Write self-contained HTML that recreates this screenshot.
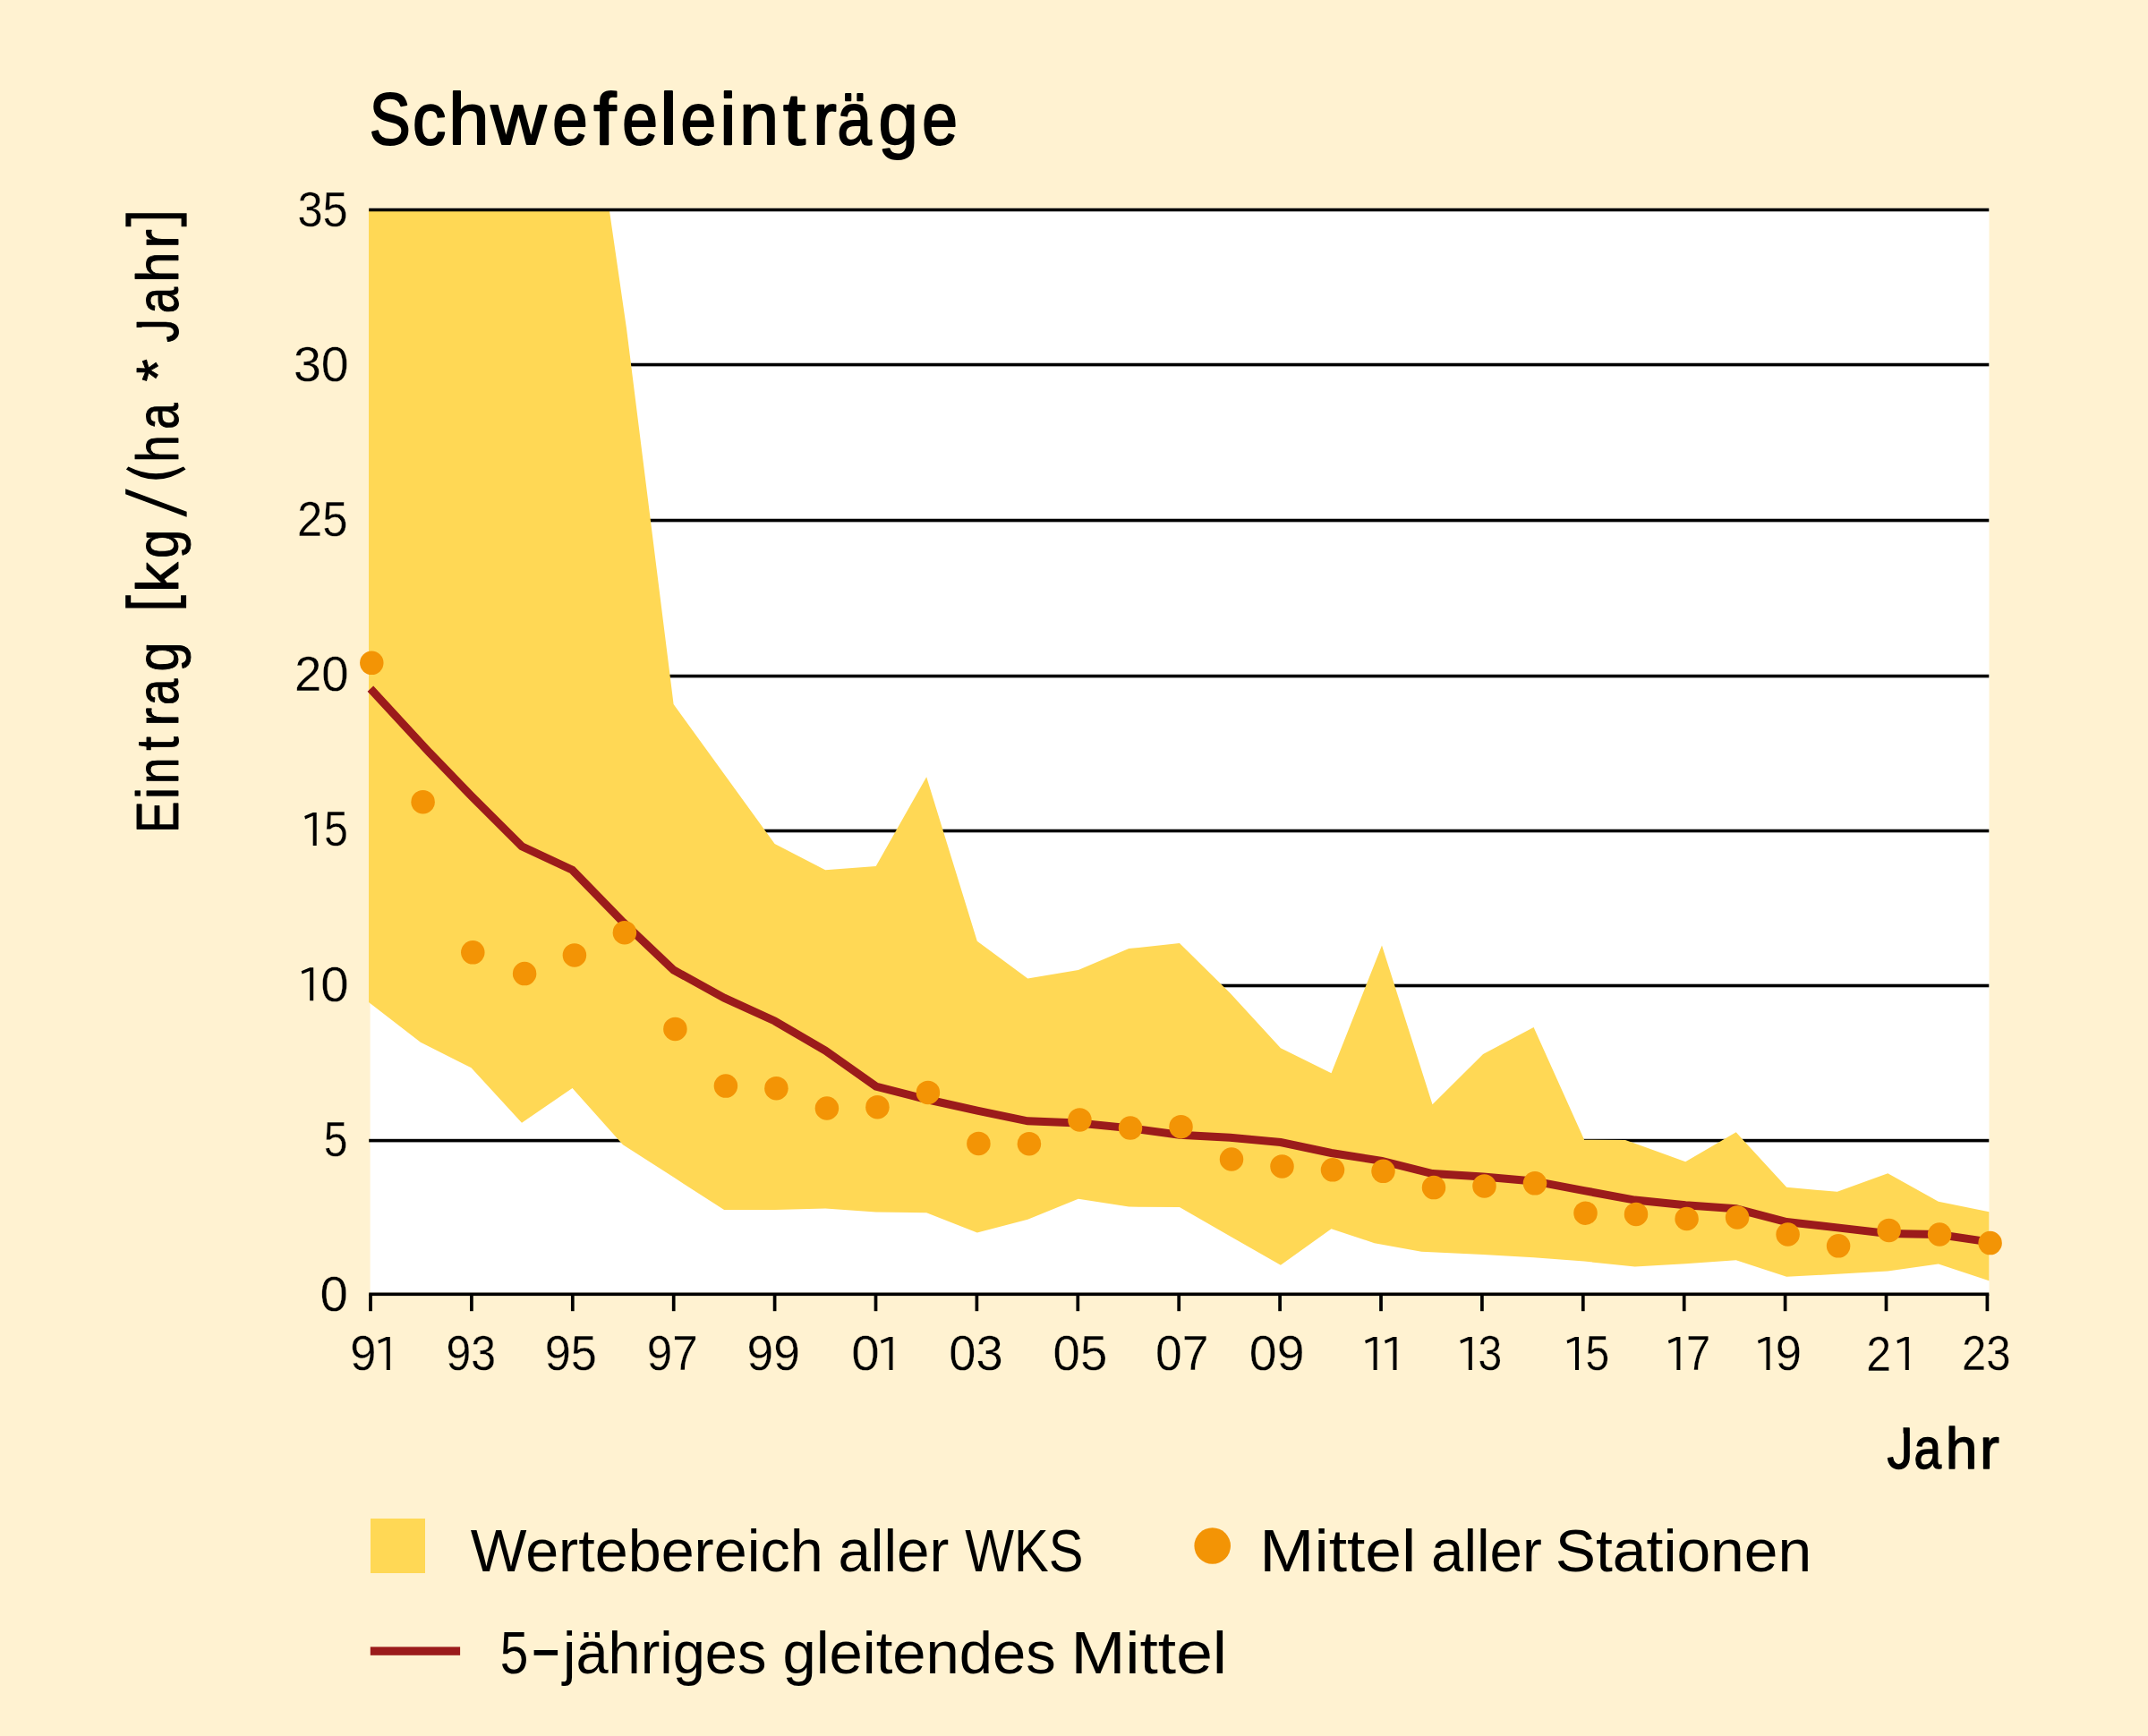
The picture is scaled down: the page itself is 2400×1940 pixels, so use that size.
<!DOCTYPE html>
<html><head><meta charset="utf-8"><title>Schwefeleinträge</title>
<style>
html,body{margin:0;padding:0;background:#FFF2D1;}
svg{display:block}
text{font-family:"Liberation Sans",sans-serif;fill:#000}
</style></head><body>
<svg width="2400" height="1940" viewBox="0 0 2400 1940">
<desc>Schwefeleinträge. Eintrag [kg / (ha * Jahr]. Jahr. Wertebereich aller WKS. Mittel aller Stationen. 5-jähriges gleitendes Mittel.</desc>
<rect width="2400" height="1940" fill="#FFF2D1"/>
<rect x="413.6" y="232.70" width="1808.9" height="1211.8" fill="#fff"/>
<rect x="412.2" y="405.75" width="1810.1" height="3.6" fill="#000"/>
<rect x="412.2" y="579.75" width="1810.1" height="3.6" fill="#000"/>
<rect x="412.2" y="753.75" width="1810.1" height="3.6" fill="#000"/>
<rect x="412.2" y="926.70" width="1810.1" height="3.6" fill="#000"/>
<rect x="412.2" y="1099.70" width="1810.1" height="3.6" fill="#000"/>
<rect x="412.2" y="1272.80" width="1810.1" height="3.6" fill="#000"/>
<polygon points="412.0,234.5 680.8,234.5 700.0,367.0 752.6,787.0 809.1,865.0 865.6,943.0 922.2,972.3 978.7,968.0 1035.2,868.2 1091.8,1051.7 1148.3,1093.6 1204.8,1084.1 1261.3,1060.1 1317.9,1053.9 1374.4,1109.8 1430.9,1171.2 1487.5,1199.2 1544.0,1056.5 1600.5,1234.2 1657.1,1177.9 1713.6,1148.1 1770.1,1273.7 1816.0,1273.9 1826.7,1277.8 1883.2,1298.2 1939.7,1265.3 1996.2,1326.8 2052.8,1331.8 2109.3,1311.3 2165.8,1342.7 2222.4,1354.2 2222.4,1431.2 2165.8,1412.6 2109.3,1420.6 2052.8,1423.8 1996.2,1426.8 1939.7,1408.2 1883.2,1412.3 1826.7,1415.4 1770.1,1409.6 1713.6,1405.3 1657.1,1402.1 1588.2,1398.7 1535.7,1389.2 1487.5,1373.2 1430.9,1413.7 1374.4,1381.6 1317.9,1348.9 1261.3,1348.6 1204.8,1339.7 1148.3,1362.8 1091.8,1377.4 1035.2,1355.2 978.7,1354.5 922.2,1350.6 865.6,1352.0 809.1,1352.0 752.6,1315.6 696.0,1279.3 639.5,1215.9 583.0,1254.7 526.5,1193.3 469.9,1164.8 412.0,1120.1" fill="#FFD855"/>
<rect x="412.2" y="232.70" width="1810.1" height="3.6" fill="#000"/>
<rect x="412.2" y="1444.50" width="1810.1" height="3.6" fill="#000"/>
<rect x="412.15" y="1446.3" width="3.7" height="18.9" fill="#000"/>
<rect x="525.05" y="1446.3" width="3.7" height="18.9" fill="#000"/>
<rect x="637.95" y="1446.3" width="3.7" height="18.9" fill="#000"/>
<rect x="750.85" y="1446.3" width="3.7" height="18.9" fill="#000"/>
<rect x="863.75" y="1446.3" width="3.7" height="18.9" fill="#000"/>
<rect x="976.65" y="1446.3" width="3.7" height="18.9" fill="#000"/>
<rect x="1089.55" y="1446.3" width="3.7" height="18.9" fill="#000"/>
<rect x="1202.45" y="1446.3" width="3.7" height="18.9" fill="#000"/>
<rect x="1315.35" y="1446.3" width="3.7" height="18.9" fill="#000"/>
<rect x="1428.25" y="1446.3" width="3.7" height="18.9" fill="#000"/>
<rect x="1541.15" y="1446.3" width="3.7" height="18.9" fill="#000"/>
<rect x="1654.05" y="1446.3" width="3.7" height="18.9" fill="#000"/>
<rect x="1766.95" y="1446.3" width="3.7" height="18.9" fill="#000"/>
<rect x="1879.85" y="1446.3" width="3.7" height="18.9" fill="#000"/>
<rect x="1992.75" y="1446.3" width="3.7" height="18.9" fill="#000"/>
<rect x="2105.65" y="1446.3" width="3.7" height="18.9" fill="#000"/>
<rect x="2218.55" y="1446.3" width="3.7" height="18.9" fill="#000"/>
<polyline points="413.9,769.6 479.5,840.7 526.5,889.4 583.0,945.8 639.5,972.3 696.0,1030.3 752.6,1084.0 809.1,1115.2 865.6,1141.0 922.2,1174.0 978.7,1214.0 1035.2,1228.5 1091.8,1241.1 1148.3,1252.8 1204.8,1255.0 1261.3,1260.6 1317.9,1268.2 1374.4,1271.2 1430.9,1276.5 1487.5,1288.5 1544.0,1297.3 1600.5,1311.5 1657.1,1315.1 1713.6,1319.9 1770.1,1330.6 1826.7,1341.1 1883.2,1346.7 1939.7,1350.8 1996.2,1365.5 2052.8,1371.9 2109.3,1378.5 2165.8,1379.5 2222.4,1387.9" fill="none" stroke="#9B1B1B" stroke-width="9" stroke-linejoin="miter"/>
<circle cx="415.3" cy="740.8" r="13.25" fill="#F39405"/>
<circle cx="472.6" cy="896.2" r="13.25" fill="#F39405"/>
<circle cx="528.3" cy="1064.3" r="13.25" fill="#F39405"/>
<circle cx="586.1" cy="1088.1" r="13.25" fill="#F39405"/>
<circle cx="641.9" cy="1067.4" r="13.25" fill="#F39405"/>
<circle cx="697.9" cy="1042.2" r="13.25" fill="#F39405"/>
<circle cx="754.4" cy="1149.9" r="13.25" fill="#F39405"/>
<circle cx="810.9" cy="1213.6" r="13.25" fill="#F39405"/>
<circle cx="867.4" cy="1216.2" r="13.25" fill="#F39405"/>
<circle cx="923.9" cy="1238.5" r="13.25" fill="#F39405"/>
<circle cx="980.4" cy="1237.2" r="13.25" fill="#F39405"/>
<circle cx="1036.9" cy="1220.9" r="13.25" fill="#F39405"/>
<circle cx="1093.4" cy="1277.9" r="13.25" fill="#F39405"/>
<circle cx="1149.9" cy="1278.2" r="13.25" fill="#F39405"/>
<circle cx="1206.4" cy="1251.4" r="13.25" fill="#F39405"/>
<circle cx="1263.0" cy="1260.6" r="13.25" fill="#F39405"/>
<circle cx="1319.5" cy="1259.2" r="13.25" fill="#F39405"/>
<circle cx="1376.0" cy="1295.5" r="13.25" fill="#F39405"/>
<circle cx="1432.5" cy="1303.4" r="13.25" fill="#F39405"/>
<circle cx="1489.0" cy="1307.3" r="13.25" fill="#F39405"/>
<circle cx="1545.5" cy="1308.8" r="13.25" fill="#F39405"/>
<circle cx="1602.0" cy="1327.1" r="13.25" fill="#F39405"/>
<circle cx="1658.5" cy="1325.4" r="13.25" fill="#F39405"/>
<circle cx="1715.0" cy="1322.3" r="13.25" fill="#F39405"/>
<circle cx="1771.5" cy="1355.7" r="13.25" fill="#F39405"/>
<circle cx="1828.0" cy="1356.9" r="13.25" fill="#F39405"/>
<circle cx="1884.6" cy="1362.0" r="13.25" fill="#F39405"/>
<circle cx="1941.1" cy="1360.4" r="13.25" fill="#F39405"/>
<circle cx="1997.6" cy="1379.5" r="13.25" fill="#F39405"/>
<circle cx="2054.1" cy="1392.3" r="13.25" fill="#F39405"/>
<circle cx="2110.6" cy="1374.9" r="13.25" fill="#F39405"/>
<circle cx="2167.1" cy="1379.5" r="13.25" fill="#F39405"/>
<circle cx="2223.6" cy="1389.1" r="13.25" fill="#F39405"/>
<text transform="translate(412.67,161.00) scale(0.8400,1)" font-size="82" font-weight="normal" stroke="#000" stroke-width="2.0" stroke-linejoin="round">S</text>
<text transform="translate(461.01,161.00) scale(0.9108,1)" font-size="82" font-weight="normal" stroke="#000" stroke-width="2.0" stroke-linejoin="round">c</text>
<text transform="translate(501.26,161.00) scale(0.9894,1)" font-size="82" font-weight="normal" stroke="#000" stroke-width="2.0" stroke-linejoin="round">h</text>
<text transform="translate(548.58,161.00) scale(1.0435,1)" font-size="82" font-weight="normal" stroke="#000" stroke-width="2.0" stroke-linejoin="round">w</text>
<text transform="translate(617.33,161.00) scale(0.8621,1)" font-size="82" font-weight="normal" stroke="#000" stroke-width="2.0" stroke-linejoin="round">e</text>
<text transform="translate(663.26,161.00) scale(1.1000,1)" font-size="82" font-weight="normal" stroke="#000" stroke-width="2.0" stroke-linejoin="round">f</text>
<text transform="translate(695.31,161.00) scale(0.8695,1)" font-size="82" font-weight="normal" stroke="#000" stroke-width="2.0" stroke-linejoin="round">e</text>
<text transform="translate(736.96,161.00) scale(1.0893,1)" font-size="82" font-weight="normal" stroke="#000" stroke-width="2.0" stroke-linejoin="round">l</text>
<text transform="translate(760.41,161.00) scale(0.8695,1)" font-size="82" font-weight="normal" stroke="#000" stroke-width="2.0" stroke-linejoin="round">e</text>
<text transform="translate(804.19,161.00) scale(1.0026,1)" font-size="82" font-weight="normal" stroke="#000" stroke-width="2.0" stroke-linejoin="round">i</text>
<text transform="translate(826.17,161.00) scale(0.9575,1)" font-size="82" font-weight="normal" stroke="#000" stroke-width="2.0" stroke-linejoin="round">n</text>
<text transform="translate(875.01,161.00) scale(1.1000,1)" font-size="82" font-weight="normal" stroke="#000" stroke-width="2.0" stroke-linejoin="round">t</text>
<text transform="translate(908.24,161.00) scale(0.9712,1)" font-size="82" font-weight="normal" stroke="#000" stroke-width="2.0" stroke-linejoin="round">r</text>
<text transform="translate(935.52,161.00) scale(0.8400,1)" font-size="82" font-weight="normal" stroke="#000" stroke-width="2.0" stroke-linejoin="round">ä</text>
<text transform="translate(981.40,161.00) scale(0.9720,1)" font-size="82" font-weight="normal" stroke="#000" stroke-width="2.0" stroke-linejoin="round">g</text>
<text transform="translate(1030.21,161.00) scale(0.8695,1)" font-size="82" font-weight="normal" stroke="#000" stroke-width="2.0" stroke-linejoin="round">e</text>
<text transform="translate(332.42,252.58) scale(0.9197,1)" font-size="55" font-weight="normal" stroke="#FFF2D1" stroke-width="0.3">35</text>
<text transform="translate(327.91,425.78) scale(1.0093,1)" font-size="55" font-weight="normal" stroke="#FFF2D1" stroke-width="0.3">30</text>
<text transform="translate(332.11,598.98) scale(0.9234,1)" font-size="55" font-weight="normal" stroke="#FFF2D1" stroke-width="0.3">25</text>
<text transform="translate(328.91,772.18) scale(0.9923,1)" font-size="55" font-weight="normal" stroke="#FFF2D1" stroke-width="0.3">20</text>
<text transform="translate(361.98,945.39) scale(0.8799,1)" font-size="55" font-weight="normal" stroke="#FFF2D1" stroke-width="0.3">5</text>
<text transform="translate(358.20,1118.58) scale(1.0264,1)" font-size="55" font-weight="normal" stroke="#FFF2D1" stroke-width="0.3">0</text>
<text transform="translate(361.70,1291.79) scale(0.8721,1)" font-size="55" font-weight="normal" stroke="#FFF2D1" stroke-width="0.3">5</text>
<text transform="translate(357.60,1464.98) scale(1.0264,1)" font-size="55" font-weight="normal" stroke="#FFF2D1" stroke-width="0.3">0</text>
<text transform="translate(391.16,1531.38) scale(0.9547,1)" font-size="55" font-weight="normal" stroke="#FFF2D1" stroke-width="0.3">9</text>
<text transform="translate(498.59,1531.38) scale(0.9082,1)" font-size="55" font-weight="normal" stroke="#FFF2D1" stroke-width="0.3">93</text>
<text transform="translate(608.77,1531.38) scale(0.9513,1)" font-size="55" font-weight="normal" stroke="#FFF2D1" stroke-width="0.3">95</text>
<text transform="translate(722.83,1531.38) scale(0.9294,1)" font-size="55" font-weight="normal" stroke="#FFF2D1" stroke-width="0.3">97</text>
<text transform="translate(834.52,1531.38) scale(0.9687,1)" font-size="55" font-weight="normal" stroke="#FFF2D1" stroke-width="0.3">99</text>
<text transform="translate(951.20,1531.38) scale(1.0264,1)" font-size="55" font-weight="normal" stroke="#FFF2D1" stroke-width="0.3">0</text>
<text transform="translate(1060.29,1531.38) scale(0.9869,1)" font-size="55" font-weight="normal" stroke="#FFF2D1" stroke-width="0.3">03</text>
<text transform="translate(1176.58,1531.38) scale(0.9922,1)" font-size="55" font-weight="normal" stroke="#FFF2D1" stroke-width="0.3">05</text>
<text transform="translate(1291.02,1531.38) scale(0.9743,1)" font-size="55" font-weight="normal" stroke="#FFF2D1" stroke-width="0.3">07</text>
<text transform="translate(1395.84,1531.38) scale(1.0078,1)" font-size="55" font-weight="normal" stroke="#FFF2D1" stroke-width="0.3">09</text>
<text transform="translate(1651.53,1531.38) scale(0.8743,1)" font-size="55" font-weight="normal" stroke="#FFF2D1" stroke-width="0.3">3</text>
<text transform="translate(1771.60,1531.39) scale(0.8721,1)" font-size="55" font-weight="normal" stroke="#FFF2D1" stroke-width="0.3">5</text>
<text transform="translate(1883.96,1531.35) scale(0.8908,1)" font-size="55" font-weight="normal" stroke="#FFF2D1" stroke-width="0.3">7</text>
<text transform="translate(1983.66,1531.38) scale(0.9547,1)" font-size="55" font-weight="normal" stroke="#FFF2D1" stroke-width="0.3">9</text>
<text transform="translate(2085.15,1531.85) scale(0.9093,1)" font-size="55" font-weight="normal" stroke="#FFF2D1" stroke-width="0.3">2</text>
<text transform="translate(2192.10,1531.39) scale(0.8909,1)" font-size="55" font-weight="normal" stroke="#FFF2D1" stroke-width="0.3">23</text>
<text transform="translate(2108.59,1640.50) scale(0.8857,1)" font-size="65.5" font-weight="normal" stroke="#000" stroke-width="1.4" stroke-linejoin="round">J</text>
<text transform="translate(2138.43,1640.50) scale(0.8400,1)" font-size="65.5" font-weight="normal" stroke="#000" stroke-width="1.4" stroke-linejoin="round">a</text>
<text transform="translate(2173.74,1640.50) scale(0.9783,1)" font-size="65.5" font-weight="normal" stroke="#000" stroke-width="1.4" stroke-linejoin="round">h</text>
<text transform="translate(2212.12,1640.50) scale(1.0031,1)" font-size="65.5" font-weight="normal" stroke="#000" stroke-width="1.4" stroke-linejoin="round">r</text>
<text transform="translate(525.65,1755.80) scale(0.9920,1)" font-size="67" font-weight="normal">Wertebereich</text>
<text transform="translate(936.40,1755.80) scale(0.9781,1)" font-size="67" font-weight="normal">aller</text>
<text transform="translate(1078.21,1755.80) scale(0.8659,1)" font-size="67" font-weight="normal">WKS</text>
<text transform="translate(1407.37,1755.80) scale(1.0937,1)" font-size="67" font-weight="normal">Mittel</text>
<text transform="translate(1599.00,1755.80) scale(0.9781,1)" font-size="67" font-weight="normal">aller</text>
<text transform="translate(1737.85,1755.80) scale(1.0115,1)" font-size="67" font-weight="normal">Stationen</text>
<text transform="translate(558.67,1869.91) scale(0.8466,1)" font-size="67" font-weight="normal">5</text>
<text transform="translate(628.98,1870.00) scale(0.9692,1)" font-size="67" font-weight="normal">jähriges</text>
<text transform="translate(874.48,1870.00) scale(0.9996,1)" font-size="67" font-weight="normal">gleitendes</text>
<text transform="translate(1196.39,1870.00) scale(1.0911,1)" font-size="67" font-weight="normal">Mittel</text>
<path d="M349.70,908.00 H353.70 V945.10 H349.70 V911.80 L341.10,915.40 L340.20,912.00 Z" fill="#000"/>
<path d="M346.20,1081.20 H350.20 V1118.30 H346.20 V1085.00 L337.60,1088.60 L336.70,1085.20 Z" fill="#000"/>
<path d="M431.80,1494.00 H435.80 V1531.10 H431.80 V1497.80 L423.20,1501.40 L422.30,1498.00 Z" fill="#000"/>
<path d="M993.50,1494.00 H997.50 V1531.10 H993.50 V1497.80 L984.90,1501.40 L984.00,1498.00 Z" fill="#000"/>
<path d="M1534.60,1494.00 H1538.60 V1531.10 H1534.60 V1497.80 L1526.00,1501.40 L1525.10,1498.00 Z" fill="#000"/>
<path d="M1556.50,1494.00 H1560.50 V1531.10 H1556.50 V1497.80 L1547.90,1501.40 L1547.00,1498.00 Z" fill="#000"/>
<path d="M1640.80,1494.00 H1644.80 V1531.10 H1640.80 V1497.80 L1632.20,1501.40 L1631.30,1498.00 Z" fill="#000"/>
<path d="M1760.00,1494.00 H1764.00 V1531.10 H1760.00 V1497.80 L1751.40,1501.40 L1750.50,1498.00 Z" fill="#000"/>
<path d="M1873.40,1494.00 H1877.40 V1531.10 H1873.40 V1497.80 L1864.80,1501.40 L1863.90,1498.00 Z" fill="#000"/>
<path d="M1973.50,1494.00 H1977.50 V1531.10 H1973.50 V1497.80 L1964.90,1501.40 L1964.00,1498.00 Z" fill="#000"/>
<path d="M2128.80,1494.00 H2132.80 V1531.10 H2128.80 V1497.80 L2120.20,1501.40 L2119.30,1498.00 Z" fill="#000"/>
<g transform="translate(198.5,925.7) rotate(-90)">
<text transform="translate(-5.07,0.00) scale(0.8000,1)" font-size="66.0" font-weight="normal" stroke="#000" stroke-width="0.9" stroke-linejoin="round">E</text>
<text transform="translate(32.56,0.00) scale(0.9171,1)" font-size="66.0" font-weight="normal" stroke="#000" stroke-width="0.9" stroke-linejoin="round">i</text>
<text transform="translate(49.82,0.00) scale(0.8000,1)" font-size="66.0" font-weight="normal" stroke="#000" stroke-width="0.9" stroke-linejoin="round">n</text>
<text transform="translate(86.92,0.00) scale(0.8618,1)" font-size="66.0" font-weight="normal" stroke="#000" stroke-width="0.9" stroke-linejoin="round">t</text>
<text transform="translate(114.02,0.00) scale(0.9553,1)" font-size="66.0" font-weight="normal" stroke="#000" stroke-width="0.9" stroke-linejoin="round">r</text>
<text transform="translate(137.61,0.00) scale(0.8000,1)" font-size="66.0" font-weight="normal" stroke="#000" stroke-width="0.9" stroke-linejoin="round">a</text>
<text transform="translate(175.25,0.00) scale(0.9044,1)" font-size="66.0" font-weight="normal" stroke="#000" stroke-width="0.9" stroke-linejoin="round">g</text>
<text transform="translate(263.78,0.00) scale(1.0230,1)" font-size="66.0" font-weight="normal" stroke="#000" stroke-width="0.9" stroke-linejoin="round">k</text>
<text transform="translate(301.80,0.00) scale(0.8816,1)" font-size="66.0" font-weight="normal" stroke="#000" stroke-width="0.9" stroke-linejoin="round">g</text>
<text transform="translate(408.90,0.00) scale(0.8325,1)" font-size="66.0" font-weight="normal" stroke="#000" stroke-width="0.9" stroke-linejoin="round">h</text>
<text transform="translate(445.96,0.00) scale(0.8000,1)" font-size="66.0" font-weight="normal" stroke="#000" stroke-width="0.9" stroke-linejoin="round">a</text>
<text transform="translate(499.18,0.00) scale(0.9860,1)" font-size="66.0" font-weight="normal" stroke="#000" stroke-width="0.9" stroke-linejoin="round">*</text>
<text transform="translate(543.24,0.00) scale(0.8000,1)" font-size="66.0" font-weight="normal" stroke="#000" stroke-width="0.9" stroke-linejoin="round">J</text>
<text transform="translate(575.46,0.00) scale(0.8000,1)" font-size="66.0" font-weight="normal" stroke="#000" stroke-width="0.9" stroke-linejoin="round">a</text>
<text transform="translate(609.87,0.00) scale(0.9366,1)" font-size="66.0" font-weight="normal" stroke="#000" stroke-width="0.9" stroke-linejoin="round">h</text>
<text transform="translate(647.88,0.00) scale(0.9898,1)" font-size="66.0" font-weight="normal" stroke="#000" stroke-width="0.9" stroke-linejoin="round">r</text>
<path d="M260.4,-58.3 H246.2 V9.6 H260.4 V3.5999999999999996 H252.2 V-52.3 H260.4 Z" fill="#000"/>
<path d="M672.5,-58.1 H687.4 V10.1 H672.5 V4.1 H681.4 V-52.1 H672.5 Z" fill="#000"/>
<polygon points="348.0,10.1 354.0,10.1 379.4,-58.3 373.4,-58.3" fill="#000"/>
<path d="M401.2,-57.6 Q378.6,-24.3 401.2,9.0 L404.1,6.5 Q388.7,-24.3 404.1,-55.1 Z" fill="#000"/>
</g>
<rect x="151.2" y="365.9" width="8.7" height="7.4" fill="#FFF2D1"/>
<rect x="2118.0" y="1594.0" width="8.5" height="8.6" fill="#FFF2D1"/>
<rect x="414" y="1697" width="61" height="61" fill="#FFD855"/>
<circle cx="1354.7" cy="1727.5" r="20.3" fill="#F39405"/>
<rect x="413.8" y="1840.4" width="100.3" height="9.4" fill="#9B1B1B"/>
<rect x="596.6" y="1844.0" width="26.5" height="5.8" fill="#000"/>
</svg></body></html>
